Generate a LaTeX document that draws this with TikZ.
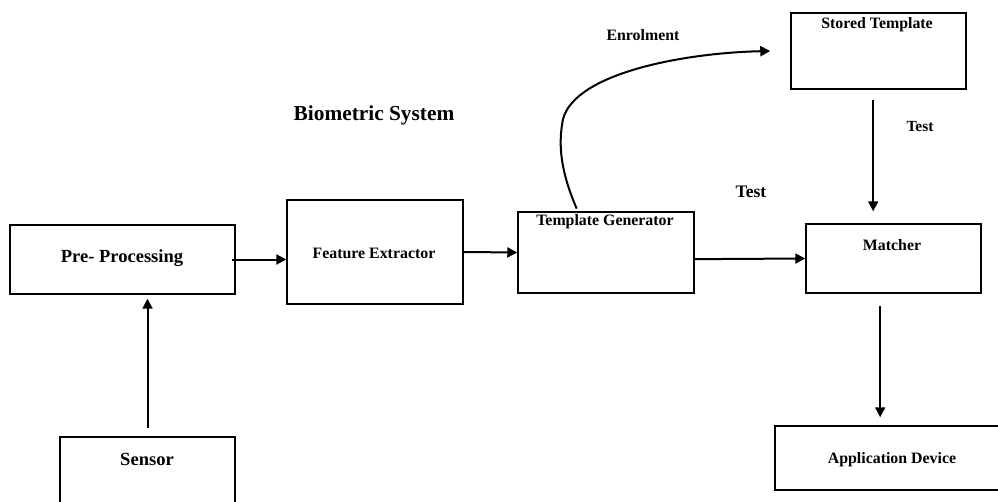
\documentclass[tikz,border=0pt]{standalone}
\usepackage{fontspec}
\setmainfont{Liberation Serif}
\usetikzlibrary{arrows.meta}

\begin{document}
\begin{tikzpicture}[x=0.75pt,y=-0.75pt]
  \tikzstyle{bx} = [rectangle, draw, line width=1.1pt, inner sep=0pt]
  \tikzstyle{e} = [line width=1.5pt, -{Triangle[length=7.5pt,width=7.5pt]}]
  \tikzstyle{tx} = [font=\bfseries\fontsize{11.9}{13}\selectfont, inner sep=0pt]
  \useasboundingbox (0,0) rectangle (998,502);

  \node[bx, minimum width=168.75pt, minimum height=51.75pt](pre) at (122.5,259.5){};
  \node[bx, minimum width=132pt, minimum height=78pt](feat) at (375,252){};
  \node[bx, minimum width=131.25pt, minimum height=62.25pt](sen) at (147.5,478.5){};
  \node[bx, minimum width=132pt, minimum height=60.75pt](tg) at (606,252.5){};
  \node[bx, minimum width=131.25pt, minimum height=57pt](st) at (878.5,51){};
  \node[bx, minimum width=131.25pt, minimum height=51.75pt](ma) at (893.5,258.5){};
  \node[bx, minimum width=176.25pt, minimum height=48pt](app) at (892.5,458){};

  \node[tx, font=\bfseries\fontsize{13.9}{15}\selectfont](tpre) at (122,258){Pre- Processing};
  \node[tx](tfeat) at (374,253){Feature Extractor};
  \node[tx, font=\bfseries\fontsize{13.9}{15}\selectfont](tsen) at (147,459){Sensor};
  \node[tx](ttg) at (605,222){Template Generator};
  \node[tx](tst) at (877,25){Stored Template};
  \node[tx](tma) at (892,245){Matcher};
  \node[tx](tapp) at (892,460){Application Device};
  \node[tx, font=\bfseries\fontsize{16}{18}\selectfont](bio) at (374,115){Biometric System};
  \node[tx](enr) at (643,35){Enrolment};
  \node[tx, font=\bfseries\fontsize{13.2}{15}\selectfont](test1) at (751,192){Test};
  \node[tx, font=\bfseries\fontsize{11.6}{13}\selectfont](test2) at (920,127){Test};

  \coordinate (s1) at ([shift={(-4pt,-7.5pt)}]st.south);
  \coordinate (m1) at ([yshift=9pt]ma.north);
  \coordinate (m2) at ([shift={(-10pt,-9pt)}]ma.south);
  \coordinate (a1) at ([yshift=6pt]app.north);

  \draw[e]([yshift=6pt]sen.north) -- ([yshift=-3pt]pre.south -| sen.north);
  \draw[e]([xshift=-3pt]pre.east) -- (feat.west |- pre.east);
  \draw[e](feat.east) -- (tg.west);
  \draw[e]([yshift=-5pt]tg.east) -- (ma.west);
  \draw[e](s1) -- (s1 |- m1);
  \draw[e](m2) -- (m2 |- a1);
  \draw[e]([shift={(-22pt,2pt)}]tg.north) .. controls (560,170) and (559,145) .. (562,125)
    .. controls (566,75) and (680,53) .. ([xshift=-15pt]st.west);

  \end{tikzpicture}
\end{document}
